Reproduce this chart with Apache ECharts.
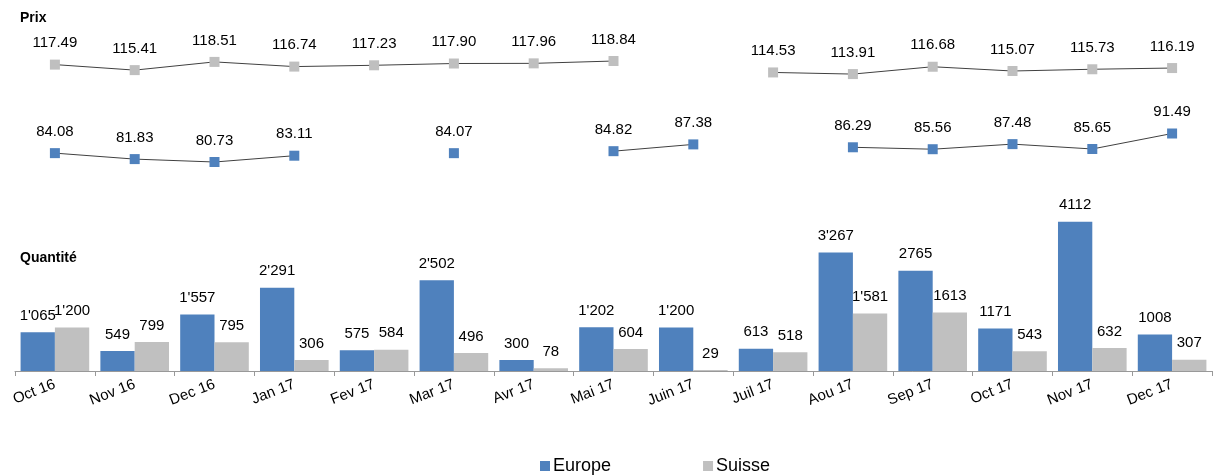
<!DOCTYPE html>
<html>
<head>
<meta charset="utf-8">
<script src="https://cdn.jsdelivr.net/npm/echarts@6/dist/echarts.min.js"></script>
<style>
  body { margin: 0; background: #fff; }
  #main { width: 1213px; height: 475px; }
</style>
</head>
<body>
<div id="main"></div>
<script>
// categories (months)
var months = ["Oct 16", "Nov 16", "Dec 16", "Jan 17", "Fev 17", "Mar 17", "Avr 17", "Mai 17",
  "Juin 17", "Juil 17", "Aou 17", "Sep 17", "Oct 17", "Nov 17", "Dec 17"];

// prix (null = pas de valeur)
var prixSuisse = [117.49, 115.41, 118.51, 116.74, 117.23, 117.90, 117.96, 118.84,
  null, 114.53, 113.91, 116.68, 115.07, 115.73, 116.19];
var prixEurope = [84.08, 81.83, 80.73, 83.11, null, 84.07, null, 84.82,
  87.38, null, 86.29, 85.56, 87.48, 85.65, 91.49];

// quantites
var qteEurope = [1065, 549, 1557, 2291, 575, 2502, 300, 1202, 1200, 613, 3267, 2765, 1171, 4112, 1008];
var qteSuisse = [1200, 799, 795, 306, 584, 496, 78, 604, 29, 518, 1581, 1613, 543, 632, 307];

var blue = "#4F81BD";
var grey = "#BFBFBF";
var font = "Liberation Sans, Arial, sans-serif";

// jusqu'a Aou 17 les milliers sont separes par une apostrophe
function fmtQte(p) {
  var s = String(p.value);
  if (p.dataIndex <= 10 && p.value >= 1000) {
    s = s.replace(/\B(?=(\d{3})+(?!\d))/g, "'");
  }
  return s;
}
function fmtPrix(p) {
  return Number(p.value).toFixed(2);
}

var myChart = echarts.init(document.getElementById("main"));

var option = {
  animation: false,
  textStyle: { fontFamily: font },
  title: [
    { text: "Prix", left: 15, top: 6, textStyle: { fontSize: 14, fontWeight: "bold", color: "#000", fontFamily: font } },
    { text: "Quantité", left: 15, top: 246, textStyle: { fontSize: 14, fontWeight: "bold", color: "#000", fontFamily: font } }
  ],
  legend: {
    data: ["Europe", "Suisse"],
    left: 535,
    top: 452,
    icon: "rect",
    itemWidth: 10,
    itemHeight: 10,
    itemGap: 92,
    textStyle: { fontSize: 18, color: "#000", fontFamily: font, padding: [0, 0, 0, -2] }
  },
  grid: [
    { left: 15, right: 1, top: 44.7, height: 132.5 },
    { left: 15, right: 1, top: 189.5, height: 181.5 }
  ],
  xAxis: [
    { type: "category", gridIndex: 0, data: months, show: false },
    {
      type: "category",
      gridIndex: 1,
      data: months,
      axisLine: { lineStyle: { color: "#999999", width: 1 } },
      axisTick: { show: true, interval: 0, length: 5, lineStyle: { color: "#999999", width: 1 } },
      axisLabel: { rotate: 21, margin: 13, fontSize: 15, color: "#000", fontFamily: font }
    }
  ],
  yAxis: [
    { type: "value", gridIndex: 0, min: 75, max: 125, show: false },
    { type: "value", gridIndex: 1, min: 0, max: 5000, show: false }
  ],
  series: [
    {
      name: "Prix Suisse",
      type: "line",
      xAxisIndex: 0,
      yAxisIndex: 0,
      data: prixSuisse,
      symbol: "rect",
      symbolSize: 10,
      itemStyle: { color: grey },
      lineStyle: { color: "#404040", width: 1 },
      label: { show: true, position: "top", distance: 9, fontSize: 15, color: "#000", formatter: fmtPrix }
    },
    {
      name: "Prix Europe",
      type: "line",
      xAxisIndex: 0,
      yAxisIndex: 0,
      data: prixEurope,
      symbol: "rect",
      symbolSize: 10,
      itemStyle: { color: blue },
      lineStyle: { color: "#404040", width: 1 },
      label: { show: true, position: "top", distance: 9, fontSize: 15, color: "#000", formatter: fmtPrix }
    },
    {
      name: "Europe",
      type: "bar",
      xAxisIndex: 1,
      yAxisIndex: 1,
      data: qteEurope,
      barGap: "0%",
      barCategoryGap: "14%",
      itemStyle: { color: blue },
      label: { show: true, position: "top", distance: 9, fontSize: 15, color: "#000", formatter: fmtQte }
    },
    {
      name: "Suisse",
      type: "bar",
      xAxisIndex: 1,
      yAxisIndex: 1,
      data: qteSuisse,
      itemStyle: { color: "#C0C0C0" },
      label: { show: true, position: "top", distance: 9, fontSize: 15, color: "#000", formatter: fmtQte }
    }
  ]
};

myChart.setOption(option);
</script>
</body>
</html>
